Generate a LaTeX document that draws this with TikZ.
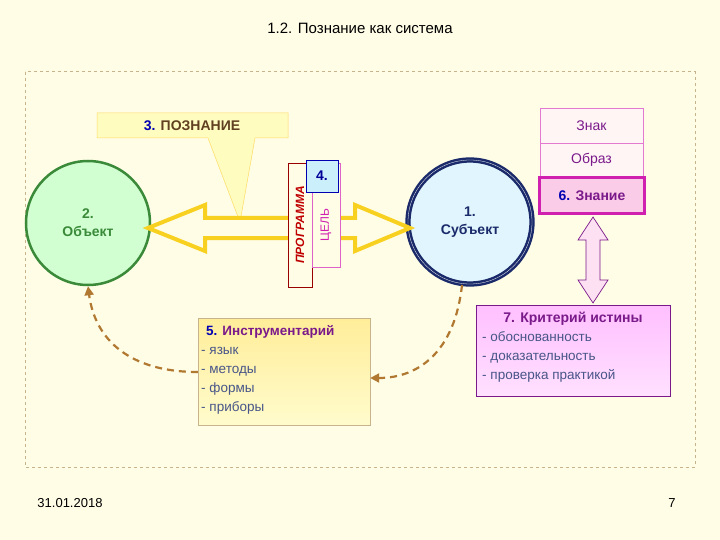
\documentclass[tikz,border=0pt]{standalone}
\usepackage{fontspec}
\setmainfont{Liberation Sans}
\usetikzlibrary{arrows.meta,shapes.arrows}
\definecolor{bg}{HTML}{FFFDE6}
\definecolor{frame}{HTML}{C8B48C}
\definecolor{brn}{HTML}{B07830}
\definecolor{ylw}{HTML}{F8D020}
\definecolor{dgreen}{HTML}{3A8A3A}
\definecolor{navy}{HTML}{1A2A6A}
\definecolor{mag}{HTML}{D020B0}
\definecolor{prp}{HTML}{7A1A8A}
\tikzset{
  lbl/.style={inner sep=0pt},
  hollowarrow/.style={draw=ylw, line width=4pt, fill=bg},
  dasharrow/.style={draw=brn, line width=2.2pt, dash pattern=on 7pt off 5pt, -{Triangle[length=9pt,width=9pt]}},
}
\begin{document}
\begin{tikzpicture}[x=1pt,y=-1pt]
\useasboundingbox (0,0) rectangle (720,540);
\fill[bg] (0,0) rectangle (720,540);
\node[font=\fontsize{15}{18}\selectfont] (title) at (360,28) {1.2. Познание как система};
\draw[frame, dashed, line width=1pt] (25,72) rectangle (695,467);
% callout
\fill[yellow!25, draw=yellow!60!orange!60, line width=0.5pt] (97,113) -- (288,113) -- (288,138) -- (255,138) -- (240,222) -- (208,138) -- (97,138) -- cycle;
\node[lbl, font=\bfseries\fontsize{14}{16}\selectfont] (pozn) at (192,126) {\textcolor{blue!70!black}{3.} \textcolor{brown!50!black}{ПОЗНАНИЕ}};
% object circle
\node[circle, minimum size=124pt, fill=green!18, draw=dgreen, line width=2.5pt, align=center, text=dgreen, font=\bfseries\fontsize{14}{18}\selectfont] (obj) at (88,223) {2.\\Объект};
% subject circle
\node[circle, minimum size=124pt, fill=cyan!12, draw=navy, line width=2.5pt, double=white, double distance=0.3pt, align=center, text=navy, font=\bfseries\fontsize{14}{18}\selectfont] (subj) at (470,222) {1.\\Субъект};
% horizontal double arrow
\draw[hollowarrow] (148,228) -- (205,205) -- (205,218) -- (355,218) -- (355,205) -- (410,228) -- (355,251) -- (355,238) -- (205,238) -- (205,251) -- cycle;
% programma / tsel
\node[draw=red!60!black, fill=bg, minimum width=24pt, minimum height=124pt, inner sep=0pt] (prog) at (300,225) {};
\node[rotate=90, text=red!75!black, font=\bfseries\itshape\fontsize{12}{14}\selectfont] at (prog) {ПРОГРАММА};
\node[draw=mag!70, fill=bg, minimum width=28pt, minimum height=104pt, inner sep=0pt] (tsel) at (326,215) {};
\node[rotate=90, text=mag, font=\fontsize{12}{14}\selectfont] at (326,225) {ЦЕЛЬ};
\node[draw=blue!70!black, fill=cyan!20, minimum width=32pt, minimum height=32pt, text=blue!60!black, font=\bfseries\fontsize{14}{16}\selectfont] (four) at (322,176) {4.};
% znak boxes
\node[draw=mag!60, fill=pink!15, minimum width=103pt, minimum height=35pt, text=prp, lbl, font=\fontsize{14}{16}\selectfont] (znak) at (591.5,125.5) {Знак};
\node[draw=mag!60, fill=pink!15, minimum width=103pt, minimum height=34pt, text=prp, lbl, font=\fontsize{14}{16}\selectfont] (obraz) at (591.5,160) {Образ};
\node[draw=mag, line width=3pt, fill=magenta!20, minimum width=105pt, minimum height=36pt, font=\bfseries\fontsize{14}{16}\selectfont] (znan) at (592,196) {\textcolor{blue!70!black}{6.} \textcolor{prp}{Знание}};
% vertical double arrow
\draw[draw=prp, line width=0.7pt, fill=magenta!12] (593,217) -- (608,240) -- (600,240) -- (600,280) -- (608,280) -- (593,303) -- (578,280) -- (586,280) -- (586,240) -- (578,240) -- cycle;
% criteria
\node[draw=prp, line width=1pt, top color=magenta!25, bottom color=magenta!12, minimum width=194pt, minimum height=91pt, inner sep=0pt] (crit) at (573,350.5) {};
\node[anchor=north, text=prp, font=\bfseries\fontsize{14}{16}\selectfont] at (573,309) {7. Критерий истины};
\node[anchor=north west, align=left, text=navy!80, font=\fontsize{13.5}{19}\selectfont, inner sep=0pt] at (482,331) {- обоснованность\\- доказательность\\- проверка практикой};
% instruments
\node[draw=frame, top color=orange!35!yellow!40, bottom color=orange!15!yellow!20, minimum width=172pt, minimum height=107pt, inner sep=0pt] (instr) at (284,371.5) {};
\node[anchor=north west, align=left, font=\fontsize{13.5}{19}\selectfont, inner sep=0pt] at (201,325) {\hspace*{5pt}\textbf{\textcolor{blue!70!black}{5.} \textcolor{prp}{Инструментарий}}\\\textcolor{navy!80}{- язык}\\\textcolor{navy!80}{- методы}\\\textcolor{navy!80}{- формы}\\\textcolor{navy!80}{- приборы}};
% dashed curves
\draw[dasharrow] (462,285) .. controls (455,350) and (420,378) .. (instr.east |- 0,378);
\draw[dasharrow] (instr.west |- 0,372) .. controls (130,372) and (95,340) .. (obj.south);
% footer
\node[font=\fontsize{13}{15}\selectfont] (date) at (70,503) {31.01.2018};
\node[font=\fontsize{13}{15}\selectfont] (pg) at (672,503) {7};
\end{tikzpicture}
\end{document}
